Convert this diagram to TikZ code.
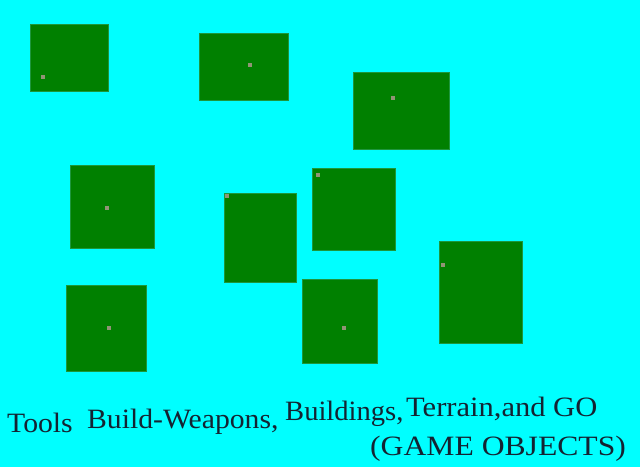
\documentclass[tikz,border=0pt]{standalone}
\usepackage{fontspec}
\usepackage{graphicx}
\setmainfont{Liberation Serif}
\definecolor{bgcyan}{RGB}{0,255,255}
\definecolor{boxgreen}{RGB}{0,128,0}
\definecolor{boxedge}{RGB}{30,150,60}
\definecolor{dotgray}{RGB}{145,148,118}
\definecolor{txt}{RGB}{20,35,50}
\tikzset{
  gobox/.style={fill=boxgreen, draw=boxedge, line width=0.6pt},
  godot/.style={fill=dotgray, draw=none, minimum size=4pt, inner sep=0pt, rectangle},
  label/.style={anchor=base west, inner sep=0pt, text=txt, font=\fontsize{28}{30}\selectfont}
}
\begin{document}
\begin{tikzpicture}[x=1pt,y=-1pt]
\fill[bgcyan] (0,0) rectangle (640,467);
\useasboundingbox (0,0) rectangle (640,467);
% boxes
\draw[gobox] (30,24) rectangle (108,91);   \node[godot] (d1) at (43,77) {};
\draw[gobox] (199,33) rectangle (288,100); \node[godot] (d2) at (250,65) {};
\draw[gobox] (353,72) rectangle (449,149); \node[godot] (d3) at (393,98) {};
\draw[gobox] (70,165) rectangle (154,248); \node[godot] (d4) at (107,208) {};
\draw[gobox] (224,193) rectangle (296,282);\node[godot] (d5) at (226.5,195.5) {};
\draw[gobox] (312,168) rectangle (395,250);\node[godot] (d6) at (318,175) {};
\draw[gobox] (439,241) rectangle (522,343);\node[godot] (d7) at (443,265) {};
\draw[gobox] (66,285) rectangle (146,371); \node[godot] (d8) at (109,328) {};
\draw[gobox] (302,279) rectangle (377,363);\node[godot] (d9) at (344,328) {};
% text
\node[label] (t1) at (7,432) {\scalebox{1.06}[1]{Tools}};
\node[label] (t2) at (87,428) {\scalebox{1.06}[1]{Build-Weapons,}};
\node[label] (t3) at (285,420) {\scalebox{1.02}[1]{Buildings,}};
\node[label] (t4) at (406,416) {\scalebox{1.09}[1]{Terrain,and GO}};
\node[label] (t5) at (370,455) {\scalebox{1.13}[1]{(GAME OBJECTS)}};
\end{tikzpicture}
\end{document}
